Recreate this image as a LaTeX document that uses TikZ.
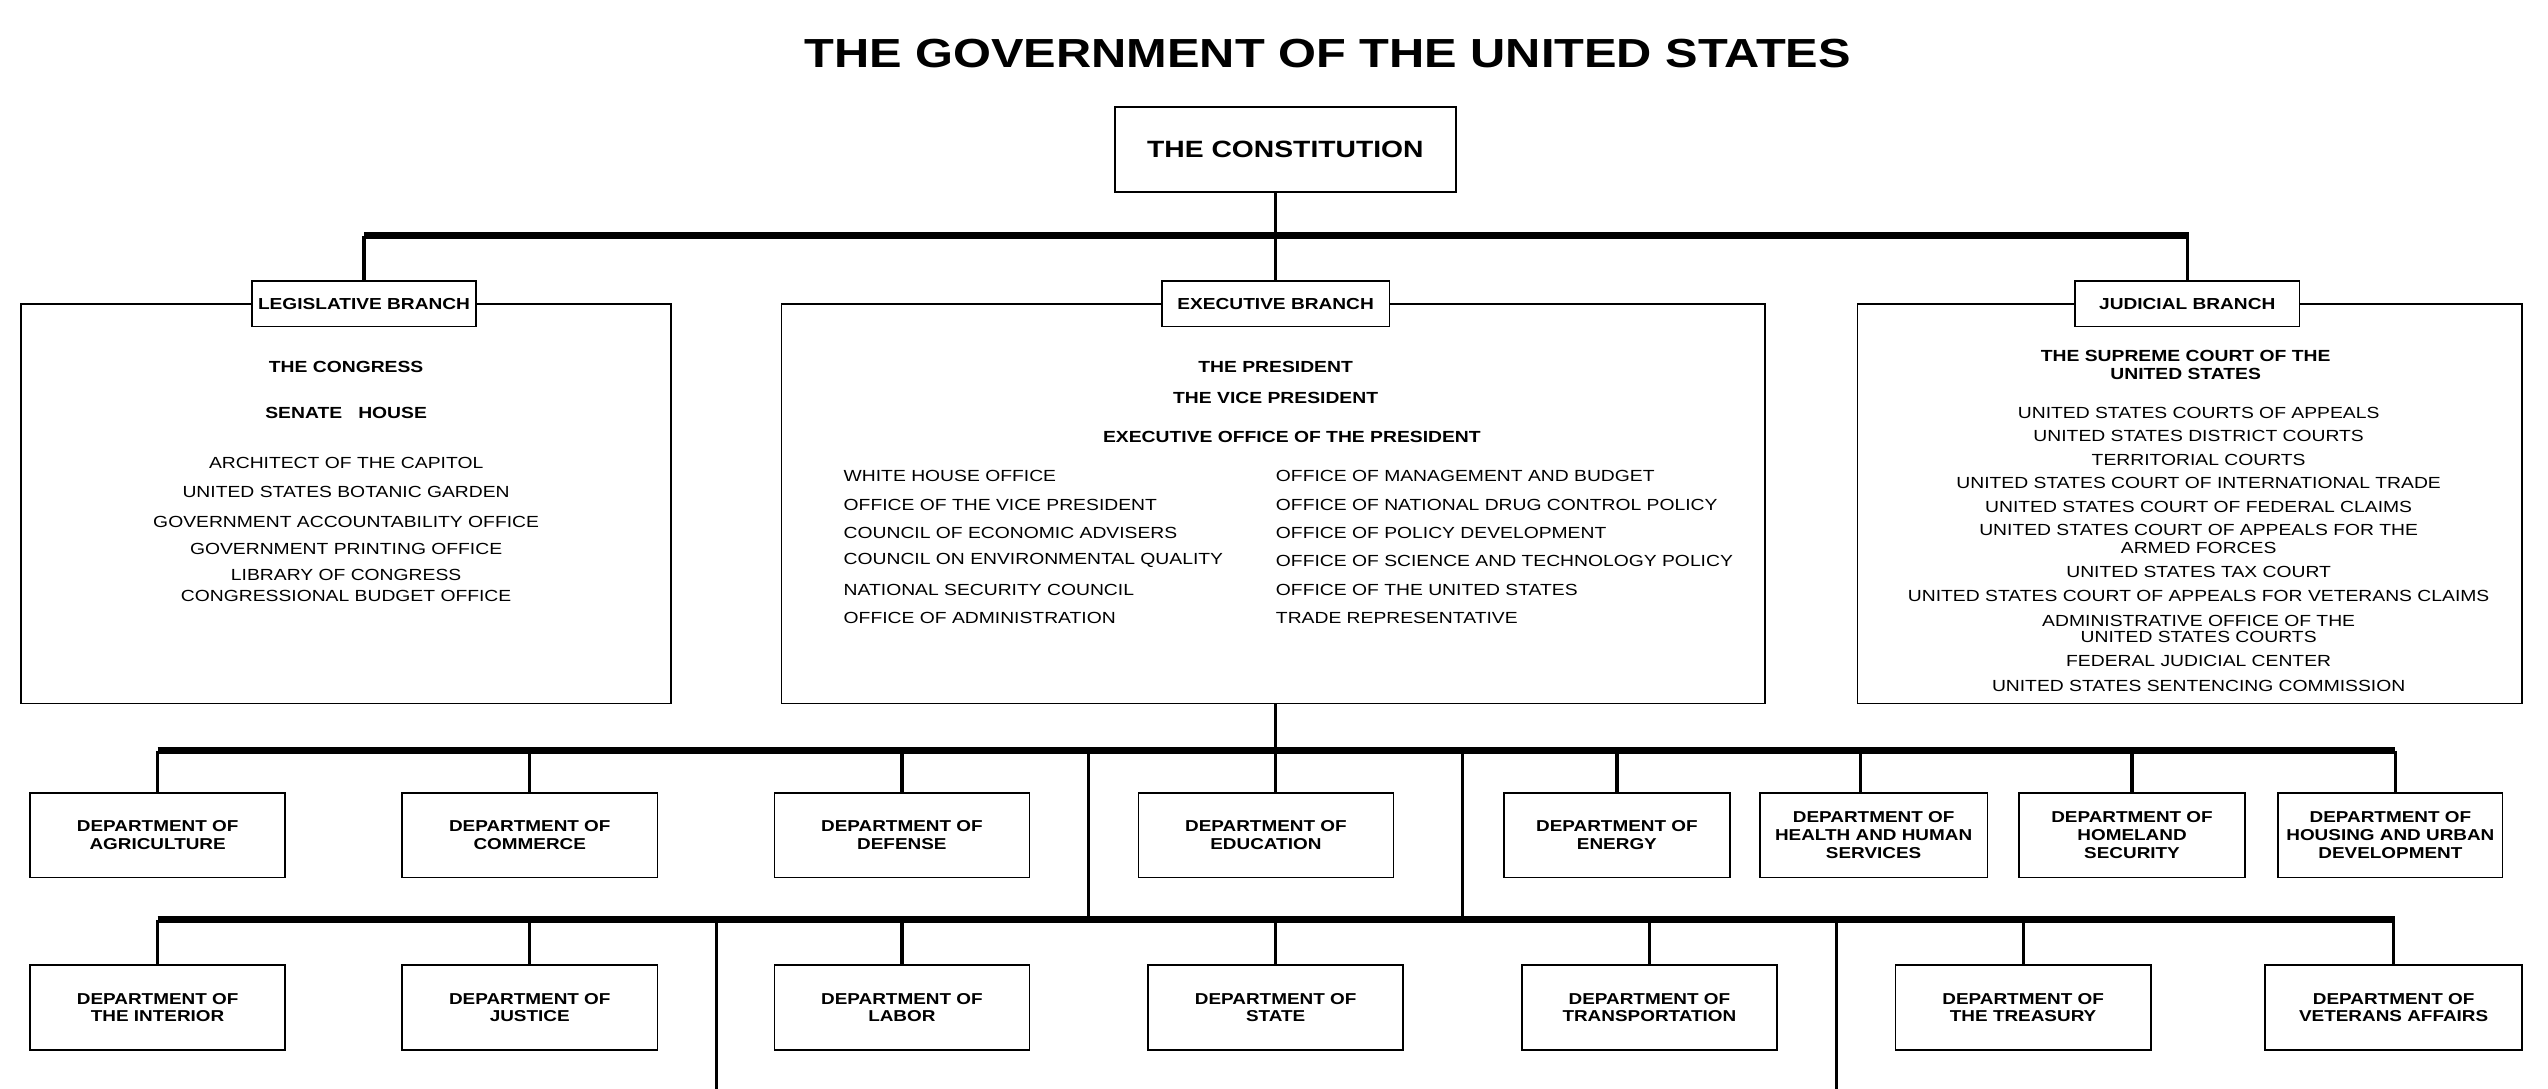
\documentclass[tikz,border=0pt]{standalone}
\usepackage{fontspec}
\setmainfont[FakeStretch=1.2]{Liberation Sans}
\usetikzlibrary{positioning}

\begin{document}
\begin{tikzpicture}[x=1pt,y=-1pt,
        box/.style={rectangle,draw=black,line width=1pt,fill=white,inner sep=0pt},
        branch/.style={box,minimum width=138,minimum height=28,font=\fontsize{9.8}{11}\selectfont\bfseries},
        dept/.style={box,minimum width=157,minimum height=52,align=center,font=\fontsize{9.7}{11}\selectfont\bfseries},
        txt/.style={font=\fontsize{9.9}{11}\selectfont,inner sep=0pt},
        hd/.style={txt,font=\fontsize{9.9}{11}\selectfont\bfseries},
        bar/.style={line width=4.5pt},
        conn/.style={line width=2pt}
        ]
        \useasboundingbox (0,0) rectangle (1568,670);
        \node (title) [font=\fontsize{25}{30}\selectfont\bfseries] at (817,33) {THE GOVERNMENT OF THE UNITED STATES};
        \node (con) [box,minimum width=210,minimum height=52,font=\fontsize{14.5}{17}\selectfont\bfseries] at (791,92) {THE CONSTITUTION};
        % branches
        \draw[line width=1pt] (13,187) rectangle (413,433);
        \draw[line width=1pt] (481,187) rectangle (1086,433);
        \draw[line width=1pt] (1143,187) rectangle (1552,433);
        \node (leg) [branch] at (224,187) {LEGISLATIVE BRANCH};
        \node (exe) [branch,minimum width=140] at (785,187) {EXECUTIVE BRANCH};
        \node (jud) [branch] at (1346,187) {JUDICIAL BRANCH};
        \coordinate (b0) at (785,145);
        \draw[conn] (con.south -| b0) -- (b0);
        \draw[bar] (224,145) -- (1347,145);
        \draw[conn] (b0 -| leg) -- (leg.north);
        \draw[conn] (b0) -- (exe.north);
        \draw[conn] (b0 -| jud) -- (jud.north);
        % legislative
        \node (cong) [hd] at (213,226) {THE CONGRESS};
        \node (sh) [hd] at (213,254) {SENATE\quad HOUSE};
        \foreach \t/\y in {ARCHITECT OF THE CAPITOL/285,UNITED STATES BOTANIC GARDEN/303,GOVERNMENT ACCOUNTABILITY OFFICE/321,GOVERNMENT PRINTING OFFICE/338,LIBRARY OF CONGRESS/354,CONGRESSIONAL BUDGET OFFICE/367}
            \node[txt] at (213,\y) {\t};
        % executive
        \node (pres) [hd] at (785,226) {THE PRESIDENT};
        \node (vp) [hd] at (785,245) {THE VICE PRESIDENT};
        \node (eop) [hd] at (795,269) {EXECUTIVE OFFICE OF THE PRESIDENT};
        \foreach \t/\y in {WHITE HOUSE OFFICE/293,OFFICE OF THE VICE PRESIDENT/311,COUNCIL OF ECONOMIC ADVISERS/328,COUNCIL ON ENVIRONMENTAL QUALITY/345,NATIONAL SECURITY COUNCIL/363,OFFICE OF ADMINISTRATION/380}
            \node[txt,anchor=west] at (519,\y) {\t};
        \foreach \t/\y in {OFFICE OF MANAGEMENT AND BUDGET/293,OFFICE OF NATIONAL DRUG CONTROL POLICY/311,OFFICE OF POLICY DEVELOPMENT/328,OFFICE OF SCIENCE AND TECHNOLOGY POLICY/345,OFFICE OF THE UNITED STATES/363,TRADE REPRESENTATIVE/380}
            \node[txt,anchor=west] at (785,\y) {\t};
        % judicial
        \node (sc1) [hd] at (1345,219) {THE SUPREME COURT OF THE};
        \node (sc2) [hd] at (1345,230) {UNITED STATES};
        \foreach \t/\y in {UNITED STATES COURTS OF APPEALS/254,UNITED STATES DISTRICT COURTS/268,TERRITORIAL COURTS/283,UNITED STATES COURT OF INTERNATIONAL TRADE/297,UNITED STATES COURT OF FEDERAL CLAIMS/312,UNITED STATES COURT OF APPEALS FOR THE/326,ARMED FORCES/337,UNITED STATES TAX COURT/352,UNITED STATES COURT OF APPEALS FOR VETERANS CLAIMS/367,ADMINISTRATIVE OFFICE OF THE/382,UNITED STATES COURTS/392,FEDERAL JUDICIAL CENTER/407,UNITED STATES SENTENCING COMMISSION/422}
            \node[txt] at (1353,\y) {\t};
        % departments row 1
        \node (agr) [dept] at (97,514) {DEPARTMENT OF\\AGRICULTURE};
        \node (com) [dept] at (326,514) {DEPARTMENT OF\\COMMERCE};
        \node (def) [dept] at (555,514) {DEPARTMENT OF\\DEFENSE};
        \node (edu) [dept] at (779,514) {DEPARTMENT OF\\EDUCATION};
        \node (ene) [dept,minimum width=139] at (995,514) {DEPARTMENT OF\\ENERGY};
        \node (hhs) [dept,minimum width=140] at (1153,514) {DEPARTMENT OF\\HEALTH AND HUMAN\\SERVICES};
        \node (hom) [dept,minimum width=139] at (1312,514) {DEPARTMENT OF\\HOMELAND\\SECURITY};
        \node (hud) [dept,minimum width=138] at (1471,514) {DEPARTMENT OF\\HOUSING AND URBAN\\DEVELOPMENT};
        % departments row 2
        \node (int) [dept] at (97,620) {DEPARTMENT OF\\THE INTERIOR};
        \node (jus) [dept] at (326,620) {DEPARTMENT OF\\JUSTICE};
        \node (lab) [dept] at (555,620) {DEPARTMENT OF\\LABOR};
        \node (sta) [dept] at (785,620) {DEPARTMENT OF\\STATE};
        \node (tra) [dept] at (1015,620) {DEPARTMENT OF\\TRANSPORTATION};
        \node (tre) [dept] at (1245,620) {DEPARTMENT OF\\THE TREASURY};
        \node (vet) [dept,minimum width=158] at (1473,620) {DEPARTMENT OF\\VETERANS AFFAIRS};
        % connectors
        \coordinate (b1) at (785,462);
        \coordinate (b2) at (785,566);
        \draw[conn] (785,433) -- (b1);
        \draw[bar] (97,462) -- (1474,462);
        \draw[bar] (97,566) -- (1474,566);
        \foreach \n in {agr,com,def,ene,hom}
            \draw[conn] (b1 -| \n) -- (\n.north);
        \draw[conn] (b1) -- (b1 |- edu.north);
        \draw[conn] (1145,462) -- (1145,488);
        \draw[conn] (1474,462) -- (1474,488);
        \draw[conn] (670,462) -- (670,566);
        \draw[conn] (900,462) -- (900,566);
        \foreach \n in {int,jus,lab,sta,tra,tre,vet}
            \draw[conn] (b2 -| \n) -- (\n.north);
        \draw[conn] (441,566) -- (441,670);
        \draw[conn] (1130,566) -- (1130,670);
    \end{tikzpicture}
\end{document}
